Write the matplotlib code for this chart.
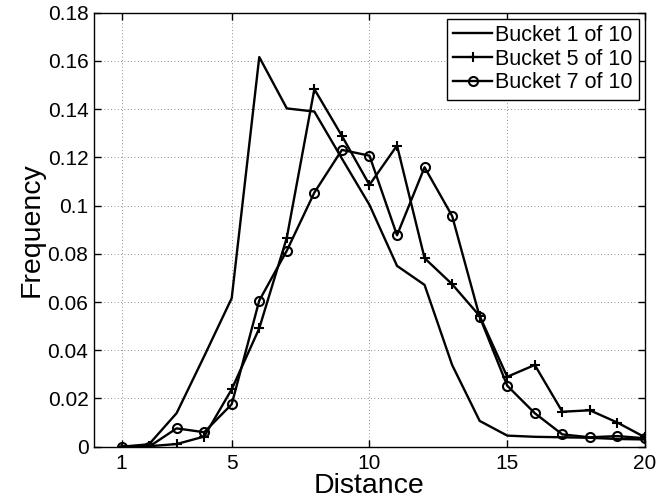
import matplotlib
matplotlib.use('Agg')
import matplotlib.pyplot as plt

distance = list(range(1, 21))

bucket1 = [0.0, 0.001, 0.0139, 0.0375, 0.0616, 0.1616, 0.1403, 0.139, 0.1195, 0.1003,
           0.075, 0.0671, 0.0339, 0.0107, 0.0046, 0.0041, 0.0039, 0.0037, 0.0032, 0.003]
bucket5 = [0.0, 0.0002, 0.0011, 0.0042, 0.0238, 0.0491, 0.0867, 0.1483, 0.1289, 0.1086,
           0.1249, 0.0782, 0.0674, 0.0542, 0.029, 0.0339, 0.0145, 0.0151, 0.01, 0.0039]
bucket7 = [0.0, 0.0, 0.0076, 0.006, 0.0176, 0.0606, 0.0813, 0.1054, 0.1231, 0.1207,
           0.0877, 0.1159, 0.0957, 0.0539, 0.0253, 0.0139, 0.0051, 0.0039, 0.0044, 0.0035]

labels = ['Bucket 1 of 10', 'Bucket 5 of 10', 'Bucket 7 of 10']
xticks = [1, 5, 10, 15, 20]

plt.rcParams['font.family'] = ['Liberation Sans', 'DejaVu Sans']

fig = plt.figure(figsize=(6.57, 5.04), dpi=100)
ax = fig.add_axes([0.143, 0.1137, 0.8387, 0.8611])

lw = 1.7
ax.plot(distance, bucket1, color='k', lw=lw, label=labels[0])
ax.plot(distance, bucket5, color='k', lw=lw, marker='+', markersize=7, mew=1.5, label=labels[1])
ax.plot(distance, bucket7, color='k', lw=lw, marker='o', markersize=6.5, mew=1.5,
        mfc='none', label=labels[2])

ax.set_xlim(0, 20)
ax.set_ylim(0, 0.18)
ax.set_xticks(xticks)
ax.set_yticks([0, 0.02, 0.04, 0.06, 0.08, 0.1, 0.12, 0.14, 0.16, 0.18])
ax.set_yticklabels(['0', '0.02', '0.04', '0.06', '0.08', '0.1', '0.12', '0.14', '0.16', '0.18'])
ax.tick_params(direction='in', length=5, width=1, labelsize=15, top=True, right=True, pad=4)
ax.tick_params(axis='x', pad=5)
ax.grid(True, linestyle=(0, (1, 3)), color='k', lw=0.6, alpha=0.6)
for s in ax.spines.values():
    s.set_linewidth(1.0)

ax.set_xlabel('Distance', fontsize=20.5, labelpad=0)
ax.set_ylabel('Frequency', fontsize=20.5, labelpad=2)

leg = ax.legend(loc='upper right', fontsize=15.5, handlelength=1.8, handletextpad=0.15,
                borderpad=0.3, labelspacing=0.12, borderaxespad=0.27, fancybox=False,
                framealpha=1)
leg.get_frame().set_edgecolor('k')
leg.get_frame().set_linewidth(1.0)

plt.savefig('out.png', dpi=100)
